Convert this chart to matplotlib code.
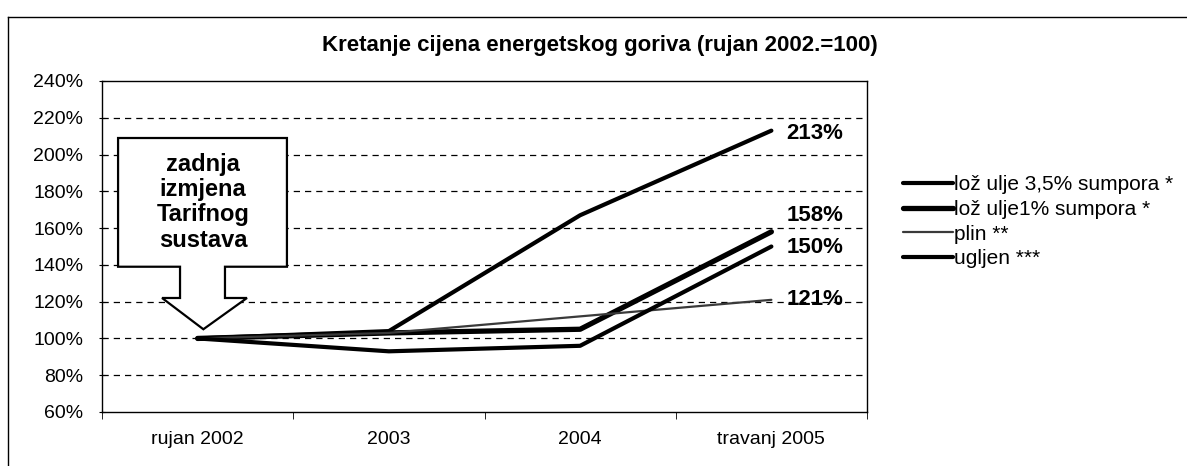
import matplotlib
matplotlib.use("Agg")
import matplotlib.pyplot as plt
from matplotlib.patches import Polygon
from matplotlib.lines import Line2D

plt.rcParams["font.family"] = ["Liberation Sans", "DejaVu Sans"]

# data (rujan 2002 = 100)
categories = ["rujan 2002", "2003", "2004", "travanj 2005"]
series_names = ["lož ulje 3,5% sumpora *", "lož ulje1% sumpora *", "plin **", "ugljen ***"]
loz_ulje_35 = [100, 104, 167, 213]
loz_ulje_1 = [100, 103, 105, 158]
plin = [100, 103, 112, 121]
ugljen = [100, 93, 96, 150]
end_labels = ["213%", "158%", "150%", "121%"]
y_ticks = [60, 80, 100, 120, 140, 160, 180, 200, 220, 240]

W, H = 1187, 466
fig = plt.figure(figsize=(W / 100, H / 100), dpi=100)

# outer chart frame (top + left edges visible in the scan)
fig.add_artist(Line2D([8 / W, 1.0], [1 - 17 / H, 1 - 17 / H], color="black", lw=1.0))
fig.add_artist(Line2D([8 / W, 8 / W], [0.0, 1 - 17 / H], color="black", lw=1.0))

ax = fig.add_axes([102 / W, 1 - 412 / H, (867 - 102) / W, (412 - 81) / H])
x = list(range(len(categories)))

series = [loz_ulje_35, loz_ulje_1, plin, ugljen]
styles = [dict(color="black", lw=3.0),
          dict(color="black", lw=3.8),
          dict(color="#3a3a3a", lw=1.6),
          dict(color="black", lw=3.0)]
handles = []
for vals, name, st in zip(series, series_names, styles):
    h, = ax.plot(x, vals, solid_capstyle="round", label=name, zorder=3, **st)
    handles.append(h)

# end-of-line value labels (vertical nudges in points to keep them apart)
nudges = [-2, 12, -1, 0]
for vals, lab, dy in zip([loz_ulje_35, loz_ulje_1, ugljen, plin], end_labels, nudges):
    ax.annotate(lab, xy=(x[-1], vals[-1]), xytext=(11, dy), textcoords="offset points",
                ha="left", va="center", fontsize=16, fontweight="bold")

ax.set_xlim(-0.5, len(categories) - 0.5)
ax.set_ylim(60, 240)
ax.set_yticks(y_ticks)
ax.set_yticklabels([f"{v}%" for v in y_ticks])
for v in y_ticks[1:-1]:
    ax.axhline(v, color="black", lw=0.9, ls=(0, (5, 4)), zorder=1)

ax.set_xticks(x)
ax.set_xticklabels(categories)
ax.set_xticks([i - 0.5 for i in range(len(categories) + 1)], minor=True)
ax.tick_params(axis="x", which="major", length=0, pad=14, labelsize=14)
ax.tick_params(axis="x", which="minor", length=5, direction="out")
ax.tick_params(axis="y", length=5, direction="inout", pad=11, labelsize=14)
for s in ax.spines.values():
    s.set_linewidth(1.0)

# callout arrow pointing at the first category
tip_x, tip_y = x[0] + 0.03, loz_ulje_35[0] + 5
shape = [(-0.416, 209), (0.467, 209), (0.467, 139), (0.143, 139), (0.143, 122),
         (0.258, 122), (tip_x, tip_y), (-0.186, 122), (-0.092, 122), (-0.092, 139),
         (-0.416, 139)]
ax.add_patch(Polygon(shape, closed=True, facecolor="white", edgecolor="black",
                     lw=1.6, zorder=4))
ax.text(0.028, 174, "zadnja\nizmjena\nTarifnog\nsustava", ha="center", va="center",
        fontsize=17, fontweight="bold", linespacing=1.12, zorder=5)

fig.text(600 / W, 1 - 45 / H, "Kretanje cijena energetskog goriva (rujan 2002.=100)",
         ha="center", va="center", fontsize=16, fontweight="bold")

fig.legend(handles=handles, labels=series_names, loc="upper left",
           bbox_to_anchor=(893 / W, 1 - 165 / H), frameon=False, fontsize=15,
           handlelength=2.4, handletextpad=0.05, labelspacing=0.27, borderpad=0)

fig.savefig("out.png", dpi=100)
